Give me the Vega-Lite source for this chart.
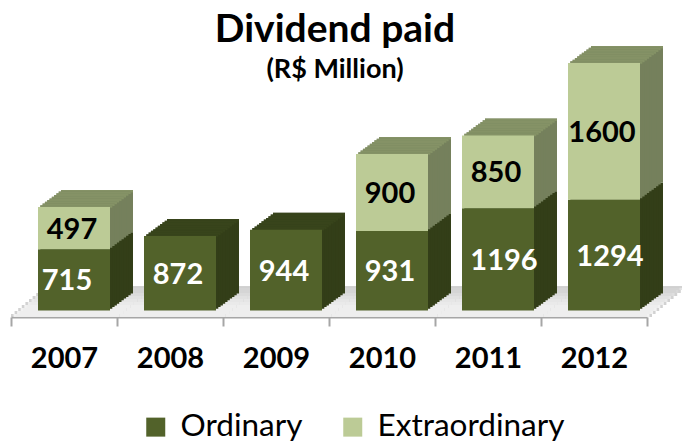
{"$schema":"https://vega.github.io/schema/vega-lite/v6.json","width":636,"height":280,"autosize":"none","padding":{"left":11,"top":37,"right":35,"bottom":125},"background":"white","config":{"view":{"stroke":null},"font":"Lato"},"title":{"text":"Dividend paid","subtitle":"(R$ Million)","anchor":"middle","dx":6,"fontSize":39,"fontWeight":"bold","color":"black","subtitleFontSize":27,"subtitleFontWeight":"bold","subtitleColor":"black","subtitlePadding":7,"offset":-46,"font":"Lato","subtitleFont":"Lato"},"datasets":{"rows":[{"year":"2007","series":"Ordinary","v":715},{"year":"2007","series":"Extraordinary","v":497},{"year":"2008","series":"Ordinary","v":872},{"year":"2009","series":"Ordinary","v":944},{"year":"2010","series":"Ordinary","v":931},{"year":"2010","series":"Extraordinary","v":900},{"year":"2011","series":"Ordinary","v":1196},{"year":"2011","series":"Extraordinary","v":850},{"year":"2012","series":"Ordinary","v":1294},{"year":"2012","series":"Extraordinary","v":1600}],"tops":[{"year":"2007","series":"Extraordinary","total":1212},{"year":"2008","series":"Ordinary","total":872},{"year":"2009","series":"Ordinary","total":944},{"year":"2010","series":"Extraordinary","total":1831},{"year":"2011","series":"Extraordinary","total":2046},{"year":"2012","series":"Extraordinary","total":2894}]},"data":{"name":"rows"},"encoding":{},"layer":[
{"data":{"name":"tops"},"mark":{"type":"tick","color":"#BFBFBF","size":106,"thickness":2,"xOffset":36,"yOffset":-30},"encoding":{"x":{"field":"year","type":"nominal","scale":{"paddingInner":0,"paddingOuter":0},"axis":{"title":null,"labelAngle":0,"labelFontSize":29,"labelFontWeight":"bold","labelColor":"black","labelPadding":18,"tickBand":"extent","tickSize":9,"tickColor":"#A6A6A6","tickWidth":2,"domainColor":"#A6A6A6","domainWidth":2}},"y":{"datum":0,"type":"quantitative","scale":{"domain":[0,3275],"nice":false,"zero":true},"axis":null}}},
{"data":{"name":"tops"},"mark":{"type":"tick","color":"#BFBFBF","size":106,"thickness":3.2,"xOffset":0,"yOffset":-1.5},"encoding":{"x":{"field":"year","type":"nominal"},"y":{"datum":0,"type":"quantitative"}}},
{"data":{"name":"tops"},"mark":{"type":"tick","color":"#BFBFBF","size":106,"thickness":3.2,"xOffset":5,"yOffset":-1.5},"encoding":{"x":{"field":"year","type":"nominal"},"y":{"datum":0,"type":"quantitative"}}},
{"data":{"name":"tops"},"mark":{"type":"tick","color":"#FFFFFF","size":106,"thickness":3.2,"xOffset":2.5,"yOffset":-1.5},"encoding":{"x":{"field":"year","type":"nominal"},"y":{"datum":0,"type":"quantitative"}}},
{"data":{"name":"tops"},"mark":{"type":"tick","color":"#BFBFBF","size":106,"thickness":3.2,"xOffset":3.6,"yOffset":-4.5},"encoding":{"x":{"field":"year","type":"nominal"},"y":{"datum":0,"type":"quantitative"}}},
{"data":{"name":"tops"},"mark":{"type":"tick","color":"#BFBFBF","size":106,"thickness":3.2,"xOffset":8.6,"yOffset":-4.5},"encoding":{"x":{"field":"year","type":"nominal"},"y":{"datum":0,"type":"quantitative"}}},
{"data":{"name":"tops"},"mark":{"type":"tick","color":"#FFFFFF","size":106,"thickness":3.2,"xOffset":6.1,"yOffset":-4.5},"encoding":{"x":{"field":"year","type":"nominal"},"y":{"datum":0,"type":"quantitative"}}},
{"data":{"name":"tops"},"mark":{"type":"tick","color":"#BFBFBF","size":106,"thickness":3.2,"xOffset":7.2,"yOffset":-7.5},"encoding":{"x":{"field":"year","type":"nominal"},"y":{"datum":0,"type":"quantitative"}}},
{"data":{"name":"tops"},"mark":{"type":"tick","color":"#BFBFBF","size":106,"thickness":3.2,"xOffset":12.2,"yOffset":-7.5},"encoding":{"x":{"field":"year","type":"nominal"},"y":{"datum":0,"type":"quantitative"}}},
{"data":{"name":"tops"},"mark":{"type":"tick","color":"#FFFFFF","size":106,"thickness":3.2,"xOffset":9.7,"yOffset":-7.5},"encoding":{"x":{"field":"year","type":"nominal"},"y":{"datum":0,"type":"quantitative"}}},
{"data":{"name":"tops"},"mark":{"type":"tick","color":"#BFBFBF","size":106,"thickness":3.2,"xOffset":10.8,"yOffset":-10.5},"encoding":{"x":{"field":"year","type":"nominal"},"y":{"datum":0,"type":"quantitative"}}},
{"data":{"name":"tops"},"mark":{"type":"tick","color":"#BFBFBF","size":106,"thickness":3.2,"xOffset":15.8,"yOffset":-10.5},"encoding":{"x":{"field":"year","type":"nominal"},"y":{"datum":0,"type":"quantitative"}}},
{"data":{"name":"tops"},"mark":{"type":"tick","color":"#FFFFFF","size":106,"thickness":3.2,"xOffset":13.3,"yOffset":-10.5},"encoding":{"x":{"field":"year","type":"nominal"},"y":{"datum":0,"type":"quantitative"}}},
{"data":{"name":"tops"},"mark":{"type":"tick","color":"#BFBFBF","size":106,"thickness":3.2,"xOffset":14.4,"yOffset":-13.5},"encoding":{"x":{"field":"year","type":"nominal"},"y":{"datum":0,"type":"quantitative"}}},
{"data":{"name":"tops"},"mark":{"type":"tick","color":"#BFBFBF","size":106,"thickness":3.2,"xOffset":19.4,"yOffset":-13.5},"encoding":{"x":{"field":"year","type":"nominal"},"y":{"datum":0,"type":"quantitative"}}},
{"data":{"name":"tops"},"mark":{"type":"tick","color":"#FAFAFA","size":106,"thickness":3.2,"xOffset":16.9,"yOffset":-13.5},"encoding":{"x":{"field":"year","type":"nominal"},"y":{"datum":0,"type":"quantitative"}}},
{"data":{"name":"tops"},"mark":{"type":"tick","color":"#BFBFBF","size":106,"thickness":3.2,"xOffset":18,"yOffset":-16.5},"encoding":{"x":{"field":"year","type":"nominal"},"y":{"datum":0,"type":"quantitative"}}},
{"data":{"name":"tops"},"mark":{"type":"tick","color":"#BFBFBF","size":106,"thickness":3.2,"xOffset":23,"yOffset":-16.5},"encoding":{"x":{"field":"year","type":"nominal"},"y":{"datum":0,"type":"quantitative"}}},
{"data":{"name":"tops"},"mark":{"type":"tick","color":"#F4F4F4","size":106,"thickness":3.2,"xOffset":20.5,"yOffset":-16.5},"encoding":{"x":{"field":"year","type":"nominal"},"y":{"datum":0,"type":"quantitative"}}},
{"data":{"name":"tops"},"mark":{"type":"tick","color":"#BFBFBF","size":106,"thickness":3.2,"xOffset":21.6,"yOffset":-19.5},"encoding":{"x":{"field":"year","type":"nominal"},"y":{"datum":0,"type":"quantitative"}}},
{"data":{"name":"tops"},"mark":{"type":"tick","color":"#BFBFBF","size":106,"thickness":3.2,"xOffset":26.6,"yOffset":-19.5},"encoding":{"x":{"field":"year","type":"nominal"},"y":{"datum":0,"type":"quantitative"}}},
{"data":{"name":"tops"},"mark":{"type":"tick","color":"#ECECEC","size":106,"thickness":3.2,"xOffset":24.1,"yOffset":-19.5},"encoding":{"x":{"field":"year","type":"nominal"},"y":{"datum":0,"type":"quantitative"}}},
{"data":{"name":"tops"},"mark":{"type":"tick","color":"#BFBFBF","size":106,"thickness":3.2,"xOffset":25.2,"yOffset":-22.5},"encoding":{"x":{"field":"year","type":"nominal"},"y":{"datum":0,"type":"quantitative"}}},
{"data":{"name":"tops"},"mark":{"type":"tick","color":"#BFBFBF","size":106,"thickness":3.2,"xOffset":30.2,"yOffset":-22.5},"encoding":{"x":{"field":"year","type":"nominal"},"y":{"datum":0,"type":"quantitative"}}},
{"data":{"name":"tops"},"mark":{"type":"tick","color":"#E4E4E4","size":106,"thickness":3.2,"xOffset":27.7,"yOffset":-22.5},"encoding":{"x":{"field":"year","type":"nominal"},"y":{"datum":0,"type":"quantitative"}}},
{"data":{"name":"tops"},"mark":{"type":"tick","color":"#BFBFBF","size":106,"thickness":3.2,"xOffset":28.8,"yOffset":-25.5},"encoding":{"x":{"field":"year","type":"nominal"},"y":{"datum":0,"type":"quantitative"}}},
{"data":{"name":"tops"},"mark":{"type":"tick","color":"#BFBFBF","size":106,"thickness":3.2,"xOffset":33.8,"yOffset":-25.5},"encoding":{"x":{"field":"year","type":"nominal"},"y":{"datum":0,"type":"quantitative"}}},
{"data":{"name":"tops"},"mark":{"type":"tick","color":"#DCDCDC","size":106,"thickness":3.2,"xOffset":31.3,"yOffset":-25.5},"encoding":{"x":{"field":"year","type":"nominal"},"y":{"datum":0,"type":"quantitative"}}},
{"data":{"name":"tops"},"mark":{"type":"tick","color":"#BFBFBF","size":106,"thickness":3.2,"xOffset":32.4,"yOffset":-28.5},"encoding":{"x":{"field":"year","type":"nominal"},"y":{"datum":0,"type":"quantitative"}}},
{"data":{"name":"tops"},"mark":{"type":"tick","color":"#D4D4D4","size":106,"thickness":3.2,"xOffset":34.9,"yOffset":-28.5},"encoding":{"x":{"field":"year","type":"nominal"},"y":{"datum":0,"type":"quantitative"}}},
{"mark":{"type":"bar","width":72,"xOffset":33,"yOffset":-23.5,"y2Offset":-23.5},"encoding":{"x":{"field":"year","type":"nominal"},"y":{"field":"v","type":"quantitative","stack":"zero"},"detail":{"field":"series"},"color":{"condition":{"test":"datum.series==='Ordinary'","value":"#333E18"},"value":"#75805C"}}},
{"data":{"name":"tops"},"mark":{"type":"tick","size":72,"thickness":2.5,"xOffset":33,"yOffset":-22.25},"encoding":{"x":{"field":"year","type":"nominal"},"y":{"field":"total","type":"quantitative"},"color":{"condition":{"test":"datum.series==='Ordinary'","value":"#3B471D"},"value":"#8C9A6B"}}},
{"mark":{"type":"bar","width":72,"xOffset":30.7,"yOffset":-21.8,"y2Offset":-21.8},"encoding":{"x":{"field":"year","type":"nominal"},"y":{"field":"v","type":"quantitative","stack":"zero"},"detail":{"field":"series"},"color":{"condition":{"test":"datum.series==='Ordinary'","value":"#333E18"},"value":"#75805C"}}},
{"data":{"name":"tops"},"mark":{"type":"tick","size":72,"thickness":2.5,"xOffset":30.7,"yOffset":-20.55},"encoding":{"x":{"field":"year","type":"nominal"},"y":{"field":"total","type":"quantitative"},"color":{"condition":{"test":"datum.series==='Ordinary'","value":"#3B471D"},"value":"#8C9A6B"}}},
{"mark":{"type":"bar","width":72,"xOffset":28.4,"yOffset":-20.1,"y2Offset":-20.1},"encoding":{"x":{"field":"year","type":"nominal"},"y":{"field":"v","type":"quantitative","stack":"zero"},"detail":{"field":"series"},"color":{"condition":{"test":"datum.series==='Ordinary'","value":"#333E18"},"value":"#75805C"}}},
{"data":{"name":"tops"},"mark":{"type":"tick","size":72,"thickness":2.5,"xOffset":28.4,"yOffset":-18.85},"encoding":{"x":{"field":"year","type":"nominal"},"y":{"field":"total","type":"quantitative"},"color":{"condition":{"test":"datum.series==='Ordinary'","value":"#3B471D"},"value":"#8C9A6B"}}},
{"mark":{"type":"bar","width":72,"xOffset":26.1,"yOffset":-18.4,"y2Offset":-18.4},"encoding":{"x":{"field":"year","type":"nominal"},"y":{"field":"v","type":"quantitative","stack":"zero"},"detail":{"field":"series"},"color":{"condition":{"test":"datum.series==='Ordinary'","value":"#333E18"},"value":"#75805C"}}},
{"data":{"name":"tops"},"mark":{"type":"tick","size":72,"thickness":2.5,"xOffset":26.1,"yOffset":-17.15},"encoding":{"x":{"field":"year","type":"nominal"},"y":{"field":"total","type":"quantitative"},"color":{"condition":{"test":"datum.series==='Ordinary'","value":"#3B471D"},"value":"#8C9A6B"}}},
{"mark":{"type":"bar","width":72,"xOffset":23.8,"yOffset":-16.7,"y2Offset":-16.7},"encoding":{"x":{"field":"year","type":"nominal"},"y":{"field":"v","type":"quantitative","stack":"zero"},"detail":{"field":"series"},"color":{"condition":{"test":"datum.series==='Ordinary'","value":"#333E18"},"value":"#75805C"}}},
{"data":{"name":"tops"},"mark":{"type":"tick","size":72,"thickness":2.5,"xOffset":23.8,"yOffset":-15.45},"encoding":{"x":{"field":"year","type":"nominal"},"y":{"field":"total","type":"quantitative"},"color":{"condition":{"test":"datum.series==='Ordinary'","value":"#3B471D"},"value":"#8C9A6B"}}},
{"mark":{"type":"bar","width":72,"xOffset":21.5,"yOffset":-15,"y2Offset":-15},"encoding":{"x":{"field":"year","type":"nominal"},"y":{"field":"v","type":"quantitative","stack":"zero"},"detail":{"field":"series"},"color":{"condition":{"test":"datum.series==='Ordinary'","value":"#333E18"},"value":"#75805C"}}},
{"data":{"name":"tops"},"mark":{"type":"tick","size":72,"thickness":2.5,"xOffset":21.5,"yOffset":-13.75},"encoding":{"x":{"field":"year","type":"nominal"},"y":{"field":"total","type":"quantitative"},"color":{"condition":{"test":"datum.series==='Ordinary'","value":"#3B471D"},"value":"#8C9A6B"}}},
{"mark":{"type":"bar","width":72,"xOffset":19.2,"yOffset":-13.3,"y2Offset":-13.3},"encoding":{"x":{"field":"year","type":"nominal"},"y":{"field":"v","type":"quantitative","stack":"zero"},"detail":{"field":"series"},"color":{"condition":{"test":"datum.series==='Ordinary'","value":"#333E18"},"value":"#75805C"}}},
{"data":{"name":"tops"},"mark":{"type":"tick","size":72,"thickness":2.5,"xOffset":19.2,"yOffset":-12.05},"encoding":{"x":{"field":"year","type":"nominal"},"y":{"field":"total","type":"quantitative"},"color":{"condition":{"test":"datum.series==='Ordinary'","value":"#3B471D"},"value":"#8C9A6B"}}},
{"mark":{"type":"bar","width":72,"xOffset":16.9,"yOffset":-11.6,"y2Offset":-11.6},"encoding":{"x":{"field":"year","type":"nominal"},"y":{"field":"v","type":"quantitative","stack":"zero"},"detail":{"field":"series"},"color":{"condition":{"test":"datum.series==='Ordinary'","value":"#333E18"},"value":"#75805C"}}},
{"data":{"name":"tops"},"mark":{"type":"tick","size":72,"thickness":2.5,"xOffset":16.9,"yOffset":-10.35},"encoding":{"x":{"field":"year","type":"nominal"},"y":{"field":"total","type":"quantitative"},"color":{"condition":{"test":"datum.series==='Ordinary'","value":"#3B471D"},"value":"#8C9A6B"}}},
{"mark":{"type":"bar","width":72,"xOffset":14.6,"yOffset":-9.9,"y2Offset":-9.9},"encoding":{"x":{"field":"year","type":"nominal"},"y":{"field":"v","type":"quantitative","stack":"zero"},"detail":{"field":"series"},"color":{"condition":{"test":"datum.series==='Ordinary'","value":"#333E18"},"value":"#75805C"}}},
{"data":{"name":"tops"},"mark":{"type":"tick","size":72,"thickness":2.5,"xOffset":14.6,"yOffset":-8.65},"encoding":{"x":{"field":"year","type":"nominal"},"y":{"field":"total","type":"quantitative"},"color":{"condition":{"test":"datum.series==='Ordinary'","value":"#3B471D"},"value":"#8C9A6B"}}},
{"mark":{"type":"bar","width":72,"xOffset":12.3,"yOffset":-8.2,"y2Offset":-8.2},"encoding":{"x":{"field":"year","type":"nominal"},"y":{"field":"v","type":"quantitative","stack":"zero"},"detail":{"field":"series"},"color":{"condition":{"test":"datum.series==='Ordinary'","value":"#333E18"},"value":"#75805C"}}},
{"data":{"name":"tops"},"mark":{"type":"tick","size":72,"thickness":2.5,"xOffset":12.3,"yOffset":-6.95},"encoding":{"x":{"field":"year","type":"nominal"},"y":{"field":"total","type":"quantitative"},"color":{"condition":{"test":"datum.series==='Ordinary'","value":"#3B471D"},"value":"#8C9A6B"}}},
{"mark":{"type":"bar","width":72,"xOffset":10,"yOffset":-6.5,"y2Offset":-6.5},"encoding":{"x":{"field":"year","type":"nominal"},"y":{"field":"v","type":"quantitative","stack":"zero"},"color":{"field":"series","type":"nominal","scale":{"domain":["Ordinary","Extraordinary"],"range":["#52622A","#BCCB96"]},"legend":{"title":null,"orient":"none","legendX":129,"legendY":374,"direction":"horizontal","symbolType":"square","symbolSize":361,"symbolStrokeWidth":0,"symbolOpacity":1,"labelFontSize":31.5,"labelColor":"black","labelFont":"Lato","labelLimit":400,"columnPadding":34,"labelOffset":9}}}},
{"transform":[{"filter":"datum.series==='Ordinary' && datum.v<800"}],"mark":{"type":"text","fontSize":29,"fontWeight":"bold","color":"white","xOffset":3,"yOffset":-5},"encoding":{"x":{"field":"year","type":"nominal"},"y":{"field":"v","type":"quantitative","stack":"zero","bandPosition":0.5},"text":{"field":"v","type":"quantitative","format":"d"}}},
{"transform":[{"filter":"datum.series==='Ordinary' && datum.v>=800 && datum.v<1000"}],"mark":{"type":"text","fontSize":29,"fontWeight":"bold","color":"white","xOffset":8,"yOffset":-5},"encoding":{"x":{"field":"year","type":"nominal"},"y":{"field":"v","type":"quantitative","stack":"zero","bandPosition":0.5},"text":{"field":"v","type":"quantitative","format":"d"}}},
{"transform":[{"filter":"datum.series==='Ordinary' && datum.v>=1000"}],"mark":{"type":"text","fontSize":29,"fontWeight":"bold","color":"white","xOffset":16,"yOffset":-5},"encoding":{"x":{"field":"year","type":"nominal"},"y":{"field":"v","type":"quantitative","stack":"zero","bandPosition":0.5},"text":{"field":"v","type":"quantitative","format":"d"}}},
{"transform":[{"stack":"v","groupby":["year"],"sort":[{"field":"series","order":"descending"}],"as":["s0","s1"]},{"filter":"datum.series==='Extraordinary'"},{"calculate":"(datum.s0+datum.s1)/2","as":"mid"}],"mark":{"type":"text","fontSize":29,"fontWeight":"bold","color":"black","xOffset":8,"yOffset":-5},"encoding":{"x":{"field":"year","type":"nominal"},"y":{"field":"mid","type":"quantitative"},"text":{"field":"v","type":"quantitative","format":"d"}}}
]}
